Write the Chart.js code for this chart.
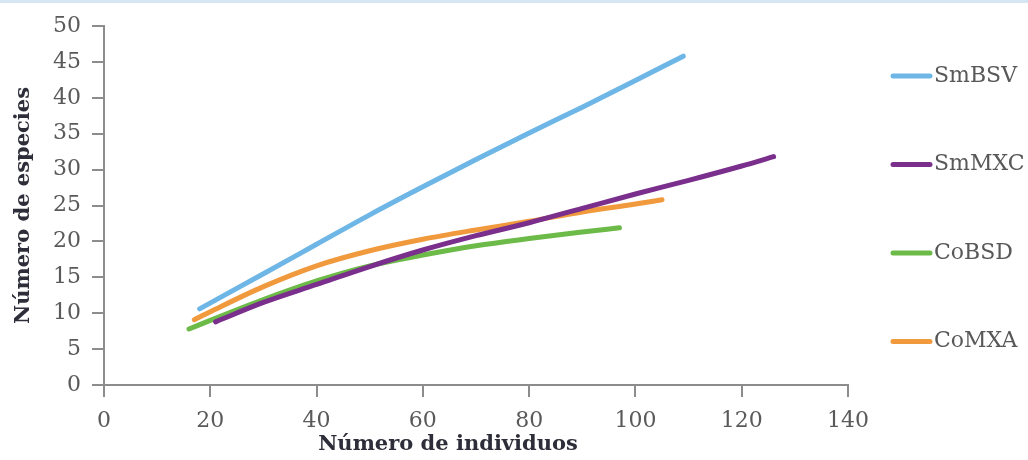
<!DOCTYPE html>
<html>
<head>
<meta charset="utf-8">
<script src="https://cdn.jsdelivr.net/npm/chart.js@4.4.1/dist/chart.umd.min.js"></script>
<style>
  html, body { margin: 0; padding: 0; background: #fff; }
  #wrap { position: relative; width: 1028px; height: 460px; }
  #wrap::before { content: ""; position: absolute; left: 0; top: 0; width: 100%; height: 3px; background: #d6e7f3; }
  canvas { display: block; }
</style>
</head>
<body>
<div id="wrap"><canvas id="chart" width="1028" height="460"></canvas></div>
<script>
// Rarefaction curves: species count against number of individuals
const seriesNames = ['SmBSV', 'SmMXC', 'CoBSD', 'CoMXA'];
const seriesColors = ['#6db6e6', '#7b2f8c', '#6cba48', '#f0993d'];

const smbsvX = [18, 30, 40, 50, 60, 70, 80, 90, 100, 109];
const smbsvY = [10.6, 15.5, 19.6, 23.7, 27.6, 31.4, 35.1, 38.7, 42.4, 45.8];

const smmxcX = [21, 30, 40, 50, 60, 70, 80, 90, 100, 110, 120, 126];
const smmxcY = [8.8, 11.5, 14.0, 16.5, 18.8, 20.8, 22.6, 24.6, 26.6, 28.5, 30.5, 31.8];

const cobsdX = [16, 20, 30, 40, 50, 60, 70, 80, 90, 97];
const cobsdY = [7.8, 9.0, 11.9, 14.5, 16.6, 18.1, 19.4, 20.4, 21.3, 21.9];

const comxaX = [17, 20, 30, 40, 50, 60, 70, 80, 90, 100, 105];
const comxaY = [9.1, 10.2, 13.7, 16.6, 18.7, 20.3, 21.6, 22.8, 24.1, 25.2, 25.8];

const xTicks = [0, 20, 40, 60, 80, 100, 120, 140];
const yTicks = [0, 5, 10, 15, 20, 25, 30, 35, 40, 45, 50];

const xTitle = 'Número de individuos';
const yTitle = 'Número de especies';

const seriesX = [smbsvX, smmxcX, cobsdX, comxaX];
const seriesY = [smbsvY, smmxcY, cobsdY, comxaY];

const datasets = seriesNames.map((name, i) => ({
  label: name,
  data: seriesX[i].map((x, k) => ({ x: x, y: seriesY[i][k] })),
  borderColor: seriesColors[i],
  backgroundColor: seriesColors[i],
  borderWidth: 5,
  borderCapStyle: 'round',
  pointRadius: 0,
  cubicInterpolationMode: 'monotone',
  fill: false
}));

const axisColor = '#8c8c8c';
const tickFont = { family: '"DejaVu Serif", serif', size: 22 };

// Axis titles and the side legend
const decorations = {
  id: 'decorations',
  afterDraw(chart) {
    const ctx = chart.ctx;
    const area = chart.chartArea;
    ctx.save();
    ctx.fillStyle = '#2e2e3a';
    ctx.font = 'bold 21px "DejaVu Serif", serif';
    ctx.textAlign = 'center';
    ctx.textBaseline = 'middle';
    ctx.fillText(xTitle, 448, 445);
    ctx.translate(24, (area.top + area.bottom) / 2);
    ctx.rotate(-Math.PI / 2);
    ctx.fillText(yTitle, 0, 0);
    ctx.restore();

    ctx.save();
    chart.data.datasets.forEach((ds, i) => {
      const y = 76 + i * 88.5;
      ctx.strokeStyle = ds.borderColor;
      ctx.lineWidth = 5;
      ctx.lineCap = 'round';
      ctx.beginPath();
      ctx.moveTo(893, y);
      ctx.lineTo(930, y);
      ctx.stroke();
      ctx.fillStyle = '#585858';
      ctx.font = '22px "DejaVu Serif", serif';
      ctx.textAlign = 'left';
      ctx.textBaseline = 'middle';
      ctx.fillText(ds.label, 934, y);
    });
    ctx.restore();
  }
};

new Chart(document.getElementById('chart'), {
  type: 'line',
  data: { datasets: datasets },
  plugins: [decorations],
  options: {
    responsive: false,
    animation: false,
    layout: { padding: { top: 26, right: 180, bottom: 0, left: 0 } },
    plugins: { legend: { display: false }, tooltip: { enabled: false } },
    scales: {
      x: {
        type: 'linear',
        min: 0,
        max: 140,
        afterBuildTicks: s => { s.ticks = xTicks.map(v => ({ value: v })); },
        afterFit: s => { s.height = 75; },
        ticks: { padding: 11, color: '#5a5a5a', font: tickFont },
        grid: { drawOnChartArea: false, drawTicks: true, tickLength: 12, color: axisColor, lineWidth: 2 },
        border: { color: axisColor, width: 2 }
      },
      y: {
        type: 'linear',
        min: 0,
        max: 50,
        afterBuildTicks: s => { s.ticks = yTicks.map(v => ({ value: v })); },
        afterFit: s => { s.width = 104; },
        ticks: { padding: 11, color: '#5a5a5a', font: tickFont },
        grid: { drawOnChartArea: false, drawTicks: true, tickLength: 12, color: axisColor, lineWidth: 2 },
        border: { color: axisColor, width: 2 }
      }
    }
  }
});
</script>
</body>
</html>
